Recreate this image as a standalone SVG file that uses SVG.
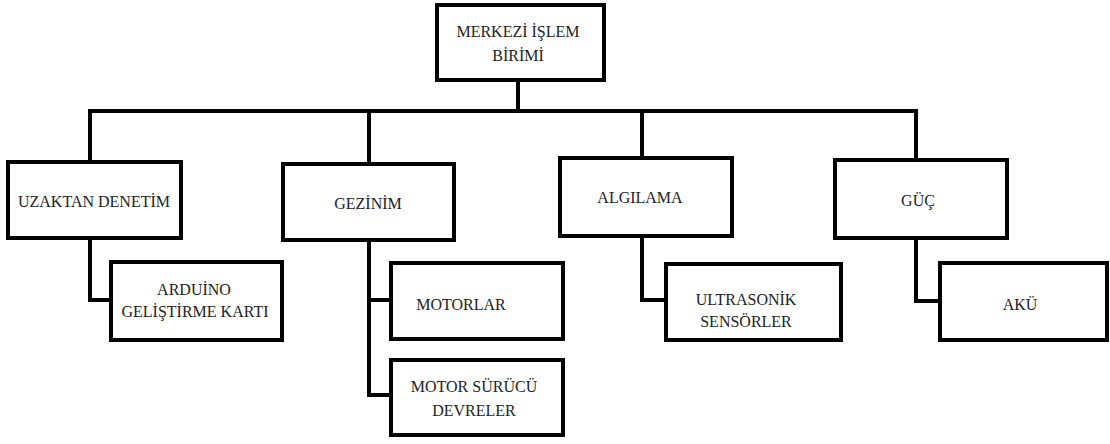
<svg xmlns="http://www.w3.org/2000/svg" width="1110" height="444" viewBox="0 0 1110 444">
<style>
.box{fill:#fff;stroke:#000;stroke-width:4}
.ln{fill:none;stroke:#000;stroke-width:4;stroke-linejoin:miter;stroke-linecap:square}
text{font-family:'Liberation Serif','Times New Roman',serif;font-size:16px;fill:#222;text-anchor:middle}
</style>
<rect width="1110" height="444" fill="#fff"/>
<g id="connectors">
<path class="ln" d="M518,80 V111 M90,162 V111 H916 V160 M369,111 V164 M642,111 V158"/>
<path class="ln" d="M90,238 V300 H111"/>
<path class="ln" d="M369,240 V395 H391 M369,300 H391"/>
<path class="ln" d="M642,236 V300 H666"/>
<path class="ln" d="M916,238 V301 H940"/>
</g>
<g id="merkezi"><rect class="box" x="437" y="5" width="167" height="75"/><text x="518" y="37">MERKEZİ İŞLEM</text><text x="518" y="61">BİRİMİ</text></g>
<g id="uzaktan"><rect class="box" x="8" y="162" width="173" height="76"/><text x="94" y="207">UZAKTAN DENETİM</text></g>
<g id="gezinim"><rect class="box" x="283" y="164" width="171" height="76"/><text x="368" y="209">GEZİNİM</text></g>
<g id="algilama"><rect class="box" x="560" y="158" width="172" height="78"/><text x="640" y="203">ALGILAMA</text></g>
<g id="guc"><rect class="box" x="835" y="160" width="172" height="78"/><text x="918" y="206">GÜÇ</text></g>
<g id="arduino"><rect class="box" x="111" y="262" width="171" height="78"/><text x="194" y="295">ARDUİNO</text><text x="195" y="317">GELİŞTİRME KARTI</text></g>
<g id="motorlar"><rect class="box" x="391" y="263" width="172" height="76"/><text x="461" y="310">MOTORLAR</text></g>
<g id="motorsurucu"><rect class="box" x="391" y="360" width="172" height="75"/><text x="474" y="392">MOTOR SÜRÜCÜ</text><text x="474" y="416">DEVRELER</text></g>
<g id="ultrasonik"><rect class="box" x="666" y="264" width="175" height="76"/><text x="746" y="305">ULTRASONİK</text><text x="746" y="327">SENSÖRLER</text></g>
<g id="aku"><rect class="box" x="940" y="263" width="167" height="77"/><text x="1020" y="310">AKÜ</text></g>
</svg>
